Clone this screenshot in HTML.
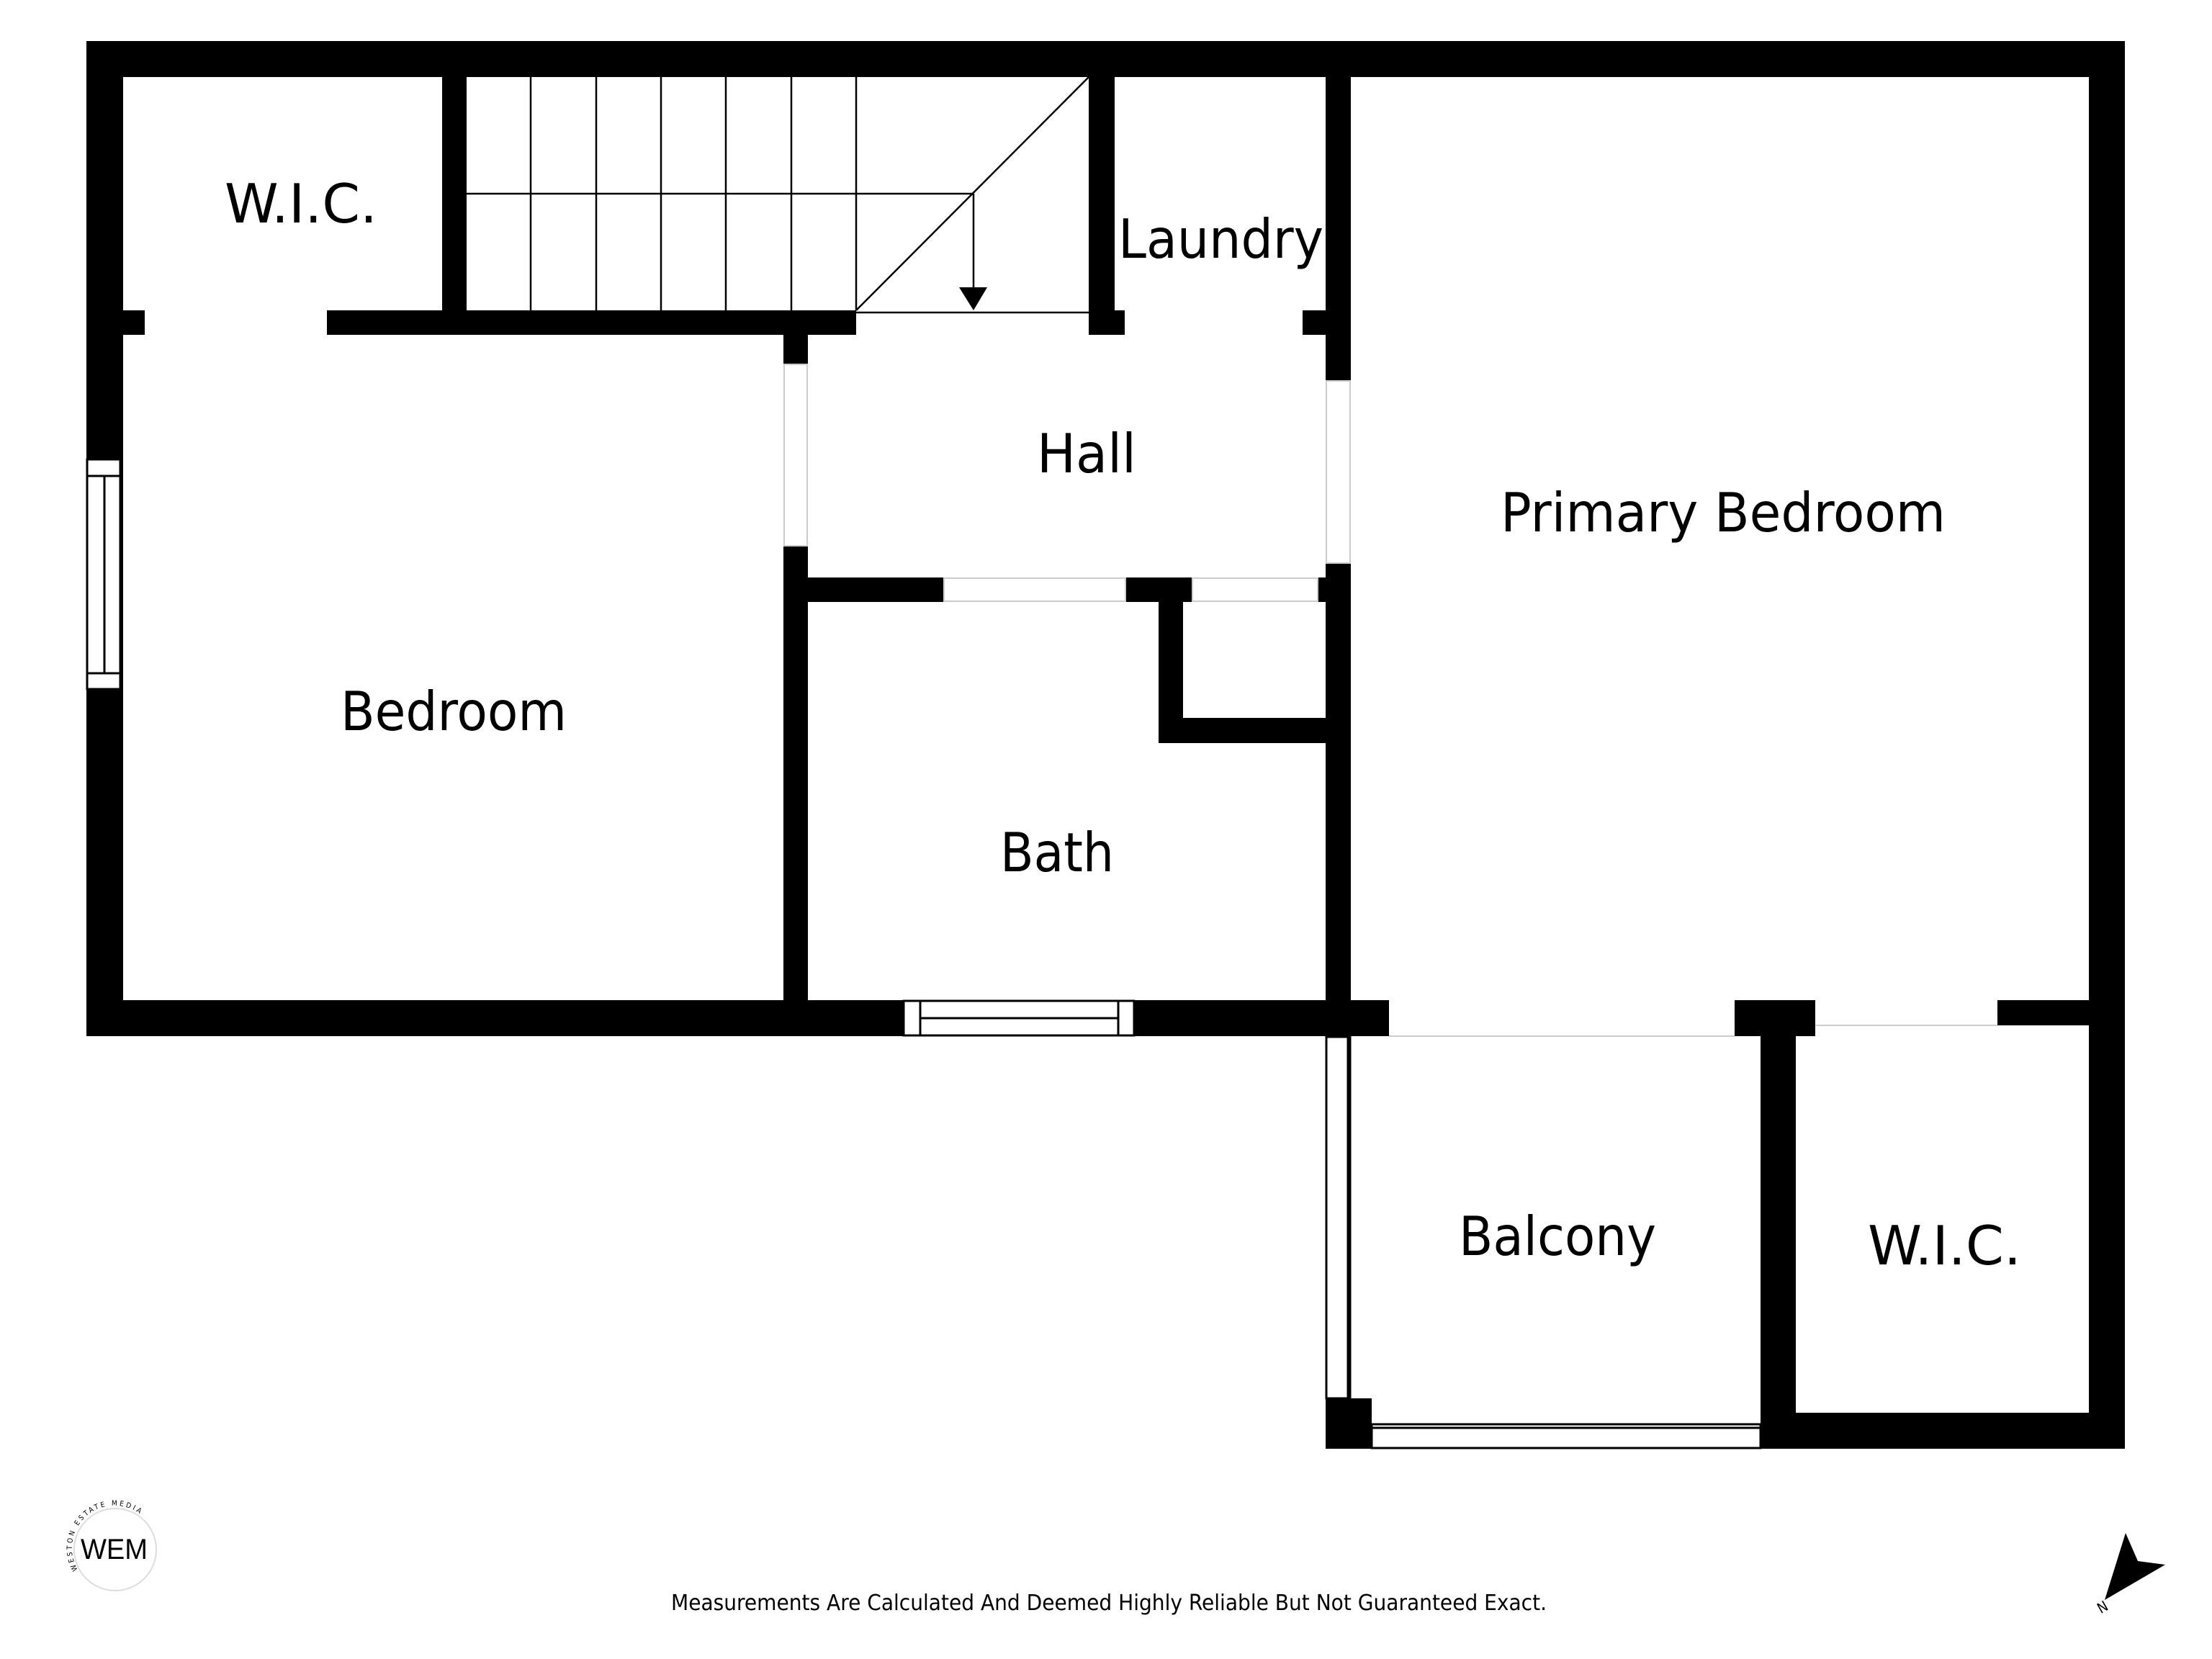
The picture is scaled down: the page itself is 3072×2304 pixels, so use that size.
<!DOCTYPE html>
<html><head><meta charset="utf-8"><style>
html,body{margin:0;padding:0;background:#fff;}
svg{display:block;}
text{font-family:"DejaVu Sans Condensed","DejaVu Sans","Liberation Sans",sans-serif;fill:#000;}
</style></head><body>
<svg width="3072" height="2304" viewBox="0 0 3072 2304" xmlns="http://www.w3.org/2000/svg">
<rect width="3072" height="2304" fill="#fff"/>
<g fill="#000">
<!-- outer top -->
<rect x="120" y="57" width="2831" height="50"/>
<!-- left outer -->
<rect x="120" y="57" width="51" height="1382"/>
<!-- bottom main wall -->
<rect x="120" y="1389" width="1809" height="50"/>
<rect x="2409" y="1389" width="112" height="50"/>
<rect x="2774" y="1389" width="177" height="35"/>
<!-- right outer -->
<rect x="2901" y="57" width="50" height="1955"/>
<!-- thick wall between balcony and WIC -->
<rect x="2445" y="1389" width="49" height="623"/>
<rect x="2445" y="1962" width="506" height="50"/>
<!-- top-left horizontal walls -->
<rect x="120" y="431" width="81" height="34"/>
<rect x="454" y="431" width="735" height="34"/>
<!-- WIC / stairs wall -->
<rect x="614" y="57" width="34" height="408"/>
<!-- laundry left wall -->
<rect x="1512" y="57" width="36" height="374"/>
<rect x="1512" y="431" width="50" height="34"/>
<!-- laundry right wall -->
<rect x="1841" y="57" width="35" height="1382"/>
<rect x="1809" y="431" width="67" height="34"/>
<!-- hall left / bath left -->
<rect x="1088" y="431" width="34" height="1008"/>
<!-- hall bottom -->
<rect x="1088" y="802" width="223" height="34"/>
<rect x="1563" y="802" width="93" height="34"/>
<rect x="1830" y="802" width="46" height="34"/>
<!-- closet -->
<rect x="1609" y="802" width="34" height="230"/>
<rect x="1609" y="997" width="267" height="35"/>
<!-- balcony corner -->
<rect x="1841" y="1942" width="64" height="70"/>
</g>
<!-- openings (white with light outline) -->
<g fill="#fff" stroke="#ccc" stroke-width="2">
<rect x="1089" y="506" width="32" height="252"/>
<rect x="1842" y="529" width="33" height="253"/>
<rect x="1311" y="803" width="252" height="32"/>
<rect x="1656" y="803" width="174" height="32"/>
</g>
<line x1="1929" y1="1439" x2="2409" y2="1439" stroke="#ccc" stroke-width="2"/>
<line x1="2521" y1="1424" x2="2774" y2="1424" stroke="#ccc" stroke-width="2"/>
<!-- windows -->
<g fill="#fff" stroke="#000" stroke-width="3">
<rect x="121" y="638" width="46" height="319"/>
<rect x="1255" y="1390" width="320" height="48"/>
<rect x="1842" y="1440" width="33" height="502"/>
<rect x="1905" y="1978" width="540" height="33"/>
</g>
<g stroke="#000" stroke-width="3">
<line x1="121" y1="661" x2="167" y2="661"/>
<line x1="121" y1="935" x2="167" y2="935"/>
<line x1="145" y1="661" x2="145" y2="935"/>
<line x1="1278" y1="1390" x2="1278" y2="1438"/>
<line x1="1553" y1="1390" x2="1553" y2="1438"/>
<line x1="1278" y1="1414" x2="1553" y2="1414"/>
<line x1="1872" y1="1440" x2="1872" y2="1942"/>
<line x1="1905" y1="1983" x2="2445" y2="1983"/>
</g>
<!-- stairs -->
<g stroke="#000" stroke-width="2.5">
<line x1="737" y1="107" x2="737" y2="431"/>
<line x1="828" y1="107" x2="828" y2="431"/>
<line x1="918" y1="107" x2="918" y2="431"/>
<line x1="1008" y1="107" x2="1008" y2="431"/>
<line x1="1099" y1="107" x2="1099" y2="431"/>
<line x1="1189" y1="107" x2="1189" y2="431"/>
<line x1="648" y1="269" x2="1352" y2="269"/>
<line x1="1189" y1="431" x2="1512" y2="107"/>
<line x1="1352" y1="269" x2="1352" y2="405"/>
<line x1="1189" y1="434" x2="1512" y2="434"/>
</g>
<polygon points="1332,399 1371,399 1352,431" fill="#000"/>
<!-- labels -->
<g font-size="75">
<text x="312" y="309" textLength="212" lengthAdjust="spacingAndGlyphs">W.I.C.</text>
<text x="473" y="1014" textLength="314" lengthAdjust="spacingAndGlyphs">Bedroom</text>
<text x="1440" y="656" textLength="138" lengthAdjust="spacingAndGlyphs">Hall</text>
<text x="1553" y="358" textLength="285" lengthAdjust="spacingAndGlyphs">Laundry</text>
<text x="2084" y="738" textLength="618" lengthAdjust="spacingAndGlyphs">Primary Bedroom</text>
<text x="1389" y="1210" textLength="158" lengthAdjust="spacingAndGlyphs">Bath</text>
<text x="2026" y="1743" textLength="274" lengthAdjust="spacingAndGlyphs">Balcony</text>
<text x="2594" y="1756" textLength="213" lengthAdjust="spacingAndGlyphs">W.I.C.</text>
</g>
<text x="932" y="2236" font-size="30" textLength="1216" lengthAdjust="spacingAndGlyphs">Measurements Are Calculated And Deemed Highly Reliable But Not Guaranteed Exact.</text>
<!-- compass -->
<polygon points="2952,2129 2969,2168 3007,2173 2923,2222" fill="#000"/>
<text x="2913" y="2240" font-size="20" transform="rotate(-30 2918 2232)">N</text>
<!-- logo -->
<circle cx="160" cy="2152" r="57" fill="none" stroke="#ddd" stroke-width="2"/>
<text x="112" y="2165" font-size="40" font-family="Liberation Sans" textLength="93" lengthAdjust="spacingAndGlyphs" style="font-family:'Liberation Sans',sans-serif;font-weight:normal" fill="#222">WEM</text>
<path id="arc" d="M 108 2180 A 52 52 0 0 1 210 2120" fill="none"/>
<text font-size="10" letter-spacing="3" fill="#222"><textPath href="#arc">WESTON ESTATE MEDIA</textPath></text>
</svg>
</body></html>
